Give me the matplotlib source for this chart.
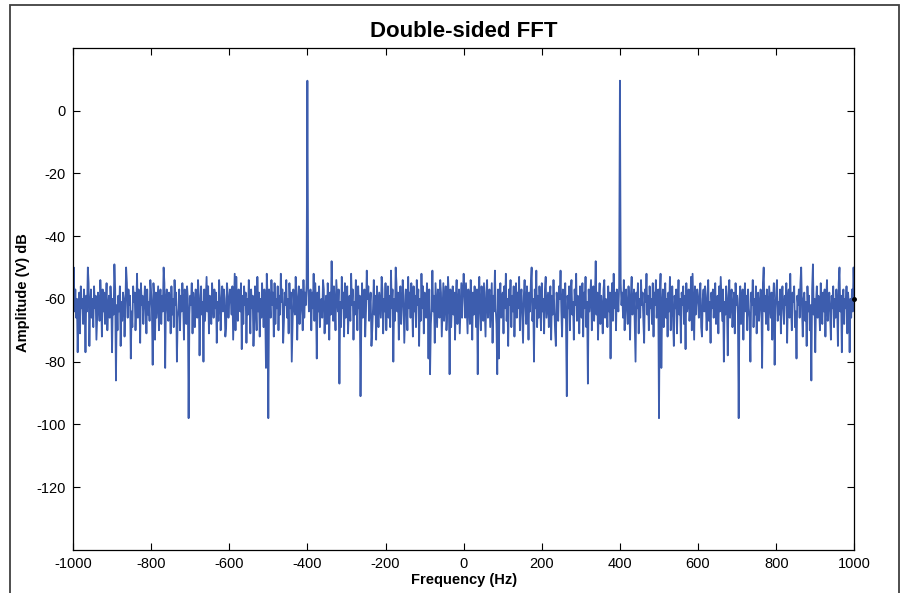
# Double-sided FFT spectrum, MATLAB-like look
import numpy as np
import matplotlib
matplotlib.use('Agg')
import matplotlib.pyplot as plt
from matplotlib.patches import Rectangle

# frequency grid (Hz)
freq_step = 2
freq_max = 1000

# amplitude (dB) for 0, 2, 4 ... 1000 Hz (real signal -> mirrored for negative freqs)
amp_pos = [
    # 0 - 98 Hz
    -52, -58, -66, -55, -63, -71, -57, -61, -68, -54,
    -60, -73, -58, -65, -56, -62, -69, -57, -84, -59,
    -53, -64, -70, -56, -61, -67, -55, -63, -72, -58,
    -54, -66, -60, -57, -69, -62, -55, -74, -59, -64,
    -51, -63, -68, -84, -57, -79, -60, -55, -66, -61,
    # 100 - 198 Hz
    -58, -71, -56, -63, -52, -67, -60, -75, -57, -62,
    -54, -69, -59, -64, -56, -72, -61, -55, -66, -58,
    -63, -53, -70, -60, -57, -65, -74, -59, -54, -62,
    -68, -56, -61, -73, -58, -64, -55, -50, -67, -60,
    -80, -57, -63, -51, -69, -59, -66, -56, -62, -70,
    # 200 - 298 Hz
    -55, -64, -60, -71, -57, -53, -66, -62, -58, -69,
    -61, -56, -73, -59, -65, -54, -63, -70, -75, -58,
    -62, -67, -56, -60, -51, -64, -72, -57, -61, -66,
    -55, -68, -91, -59, -63, -56, -70, -58, -54, -65,
    -61, -73, -57, -62, -52, -67, -59, -64, -71, -56,
    # 300 - 398 Hz
    -60, -66, -55, -72, -58, -63, -53, -69, -61, -87,
    -57, -64, -59, -54, -70, -62, -56, -67, -60, -48,
    -65, -58, -73, -61, -55, -68, -59, -63, -71, -57,
    -54, -66, -60, -62, -69, -56, -64, -58, -79, -61,
    -55, -67, -52, -63, -58, -70, -57, -60, -64, -56,
    # 400 - 498 Hz (tone at 400 Hz)
    9.5, -55, -62, -58, -66, -54, -70, -60, -57, -64,
    -68, -56, -61, -73, -59, -53, -65, -62, -57, -69,
    -80, -58, -63, -55, -71, -60, -66, -54, -62, -58,
    -67, -74, -57, -61, -52, -65, -59, -70, -56, -63,
    -60, -68, -55, -72, -58, -62, -54, -66, -61, -57,
    # 500 - 598 Hz
    -98, -59, -52, -82, -63, -57, -69, -61, -55, -66,
    -60, -72, -58, -64, -53, -70, -62, -56, -67, -75,
    -59, -63, -57, -71, -61, -54, -65, -60, -74, -58,
    -62, -56, -68, -59, -76, -55, -64, -61, -57, -67,
    -63, -53, -70, -52, -62, -73, -56, -65, -60, -57,
    # 600 - 698 Hz
    -61, -66, -58, -55, -69, -72, -60, -57, -64, -56,
    -62, -70, -59, -54, -67, -61, -74, -58, -63, -57,
    -66, -60, -55, -68, -62, -59, -71, -56, -64, -53,
    -60, -67, -57, -80, -61, -65, -56, -62, -78, -59,
    -54, -66, -60, -57, -69, -63, -58, -71, -55, -62,
    # 700 - 798 Hz
    -59, -65, -98, -60, -56, -68, -62, -57, -73, -61,
    -55, -64, -59, -70, -57, -63, -66, -80, -58, -62,
    -54, -69, -60, -65, -56, -71, -61, -58, -67, -63,
    -57, -60, -82, -55, -50, -64, -59, -68, -57, -62,
    -70, -56, -61, -66, -58, -73, -60, -55, -81, -63,
    # 800 - 898 Hz
    -58, -54, -67, -61, -65, -57, -71, -60, -56, -63,
    -68, -59, -62, -55, -74, -60, -57, -66, -52, -63,
    -70, -58, -61, -56, -69, -64, -79, -59, -62, -57,
    -66, -55, -50, -63, -72, -60, -58, -67, -61, -75,
    -56, -64, -59, -70, -62, -86, -57, -49, -65, -60,
    # 900 - 998 Hz
    -77, -61, -56, -66, -59, -63, -70, -55, -62, -68,
    -58, -64, -57, -72, -60, -54, -67, -61, -58, -65,
    -73, -59, -63, -56, -69, -60, -66, -57, -62, -75,
    -55, -50, -64, -59, -77, -61, -57, -68, -60, -63,
    -56, -71, -58, -62, -77, -60, -66, -57, -64, -50,
    # 1000 Hz
    -60,
]

x_ticks = [-1000, -800, -600, -400, -200, 0, 200, 400, 600, 800, 1000]
y_ticks = [-120, -100, -80, -60, -40, -20, 0]


def main():
    plt.rcParams['font.family'] = ['Liberation Sans', 'DejaVu Sans']
    plt.rcParams['axes.unicode_minus'] = False

    freq = np.arange(-freq_max, freq_max + freq_step, freq_step)
    amp_half = np.array(amp_pos, dtype=float)
    amp = np.concatenate([amp_half[::-1], amp_half[1:]])

    fig = plt.figure(figsize=(9.01, 5.93), dpi=100)
    ax = fig.add_axes([0.081, 0.0725, 0.8672, 0.847])

    # grey frame around the whole figure (bottom edge is cut off)
    fig.patches.append(Rectangle((0.0111, -0.05), 0.9867, 1.0416,
                                 transform=fig.transFigure, fill=False,
                                 edgecolor='#404040', linewidth=1.3))

    ax.plot(freq, amp, color='#3d5dae', linewidth=1.3)
    ax.plot(freq[-1], amp[-1], 'k.', markersize=5, clip_on=False)

    ax.set_xlim(-1000, 1000)
    ax.set_ylim(-140, 20)
    ax.set_xticks(x_ticks)
    ax.set_yticks(y_ticks)
    ax.tick_params(direction='in', top=True, right=True, length=5,
                   width=0.8, labelsize=10.5, pad=5)
    for sp in ax.spines.values():
        sp.set_linewidth(0.9)

    ax.set_title('Double-sided FFT', fontsize=16, fontweight='bold', pad=8)
    ax.set_xlabel('Frequency (Hz)', fontsize=10.5, fontweight='bold', va='center')
    ax.set_ylabel('Amplitude (V) dB', fontsize=10.5, fontweight='bold', va='center')
    ax.xaxis.set_label_coords(0.5, -0.06)
    ax.yaxis.set_label_coords(-0.064, 0.513)

    fig.savefig('out.png', dpi=100)


if __name__ == "__main__":
    main()
